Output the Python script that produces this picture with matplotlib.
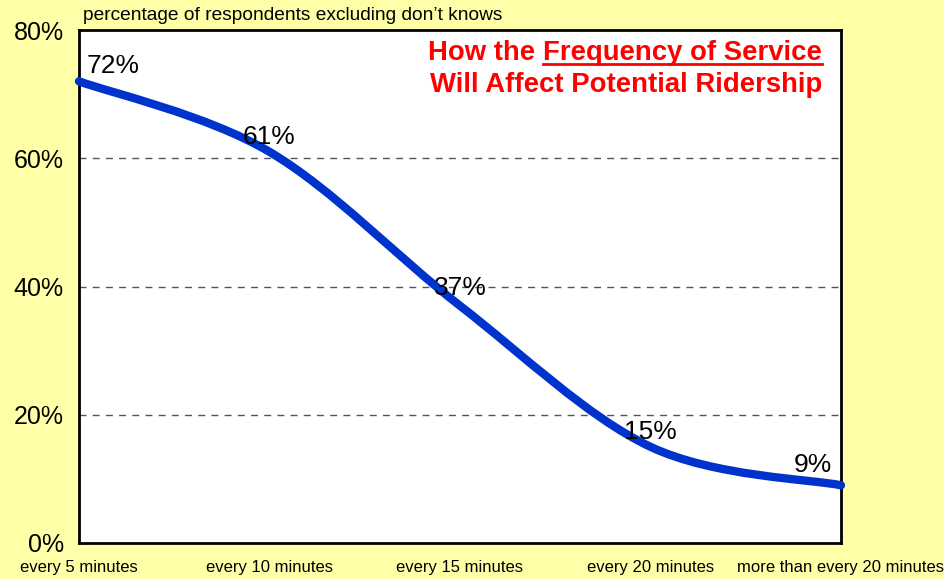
import matplotlib
matplotlib.use('Agg')
import matplotlib.pyplot as plt
from matplotlib.path import Path
from matplotlib.patches import PathPatch
from matplotlib.lines import Line2D
import numpy as np

# data
categories = ['every 5 minutes', 'every 10 minutes', 'every 15 minutes',
              'every 20 minutes', 'more than every 20 minutes']
values = [72, 61, 37, 15, 9]
labels = ['72%', '61%', '37%', '15%', '9%']

plt.rcParams['font.family'] = ['Liberation Sans', 'DejaVu Sans']

bg = '#ffffa8'
blue = '#0033cc'

fig = plt.figure(figsize=(9.45, 5.79), dpi=100, facecolor=bg)
ax = fig.add_axes([79/945, 1 - 543/579, 762/945, 513/579])
ax.set_facecolor('white')

x = np.arange(len(values))
y = np.array(values, dtype=float)

# smoothed line like Excel: bezier segments through every point
verts = [(x[0], y[0])]
codes = [Path.MOVETO]
n = len(x)
for i in range(n - 1):
    p0 = (x[max(i - 1, 0)], y[max(i - 1, 0)])
    p1 = (x[i], y[i])
    p2 = (x[i + 1], y[i + 1])
    p3 = (x[min(i + 2, n - 1)], y[min(i + 2, n - 1)])
    c1 = (p1[0] + (p2[0] - p0[0]) / 6, p1[1] + (p2[1] - p0[1]) / 6)
    c2 = (p2[0] - (p3[0] - p1[0]) / 6, p2[1] - (p3[1] - p1[1]) / 6)
    verts += [c1, c2, p2]
    codes += [Path.CURVE4] * 3
ax.add_patch(PathPatch(Path(verts, codes), fill=False, edgecolor=blue,
                       linewidth=6, capstyle='round', zorder=3, clip_on=False))

ax.set_xlim(0, n - 1)
ax.set_ylim(0, 80)

# grid
for g in [20, 40, 60]:
    ax.axhline(g, color='#555555', linestyle=(0, (5, 4.5)), linewidth=1, zorder=1)

for s in ax.spines.values():
    s.set_linewidth(2)
    s.set_color('black')

ax.set_yticks([0, 20, 40, 60, 80])
ax.set_yticklabels(['0%', '20%', '40%', '60%', '80%'], fontsize=18)
ax.set_xticks(x)
ax.set_xticklabels(categories, fontsize=12)
ax.tick_params(axis='both', length=0)
ax.tick_params(axis='y', pad=11)
ax.tick_params(axis='x', pad=12)

# data labels
offsets = [(0.18, 2.4), (0.0, 2.3), (0.0, 2.7), (0.0, 2.3), (-0.15, 3.2)]
for xi, yi, lab, (dx, dy) in zip(x, y, labels, offsets):
    ax.text(xi + dx, yi + dy, lab, fontsize=19, ha='center', va='center', zorder=4)

# subtitle above plot
fig.text(83/945, 1 - 16/579, "percentage of respondents excluding don\u2019t knows",
         fontsize=13.8, ha='left', va='center')

# title
red = '#ff0000'
t1 = fig.text(822/945, 1 - 53/579, 'Frequency of Service', color=red,
              fontsize=19.8, fontweight='bold', ha='right', va='center')
fig.canvas.draw()
r = fig.canvas.get_renderer()
bb = t1.get_window_extent(r)
fig.text(bb.x0 / 945, 1 - 53/579, 'How the ', color=red,
         fontsize=19.8, fontweight='bold', ha='right', va='center')
fig.add_artist(Line2D([bb.x0 / 945, bb.x1 / 945],
                      [(bb.y0 + 2) / 579, (bb.y0 + 2) / 579],
                      color=red, linewidth=2, transform=fig.transFigure))
fig.text(822/945, 1 - 85/579, 'Will Affect Potential Ridership', color=red,
         fontsize=19.8, fontweight='bold', ha='right', va='center')

fig.savefig('out.png', dpi=100, facecolor=bg)
